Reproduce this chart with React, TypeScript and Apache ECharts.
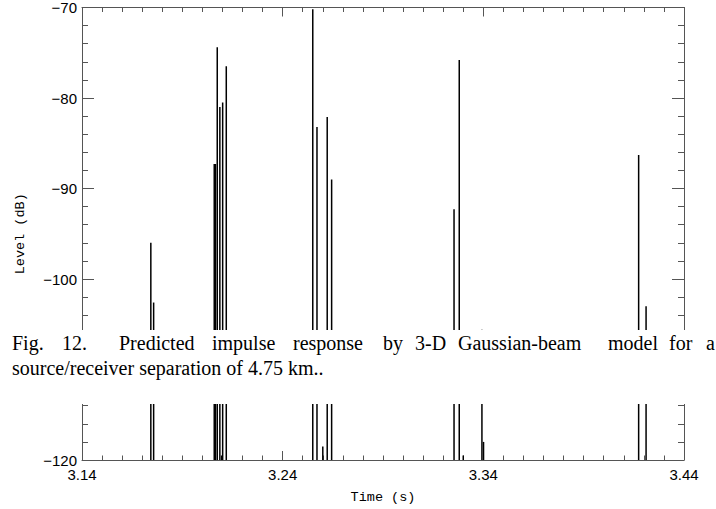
import React, { useEffect, useRef } from "react";
import * as echarts from "echarts";

// Arrival times (s) and levels (dB) of the predicted impulse response
const arrivalTimes = [
  3.1743, 3.1757,
  3.2059, 3.2065, 3.2074, 3.2087, 3.2096, 3.2101, 3.2119,
  3.2550, 3.2571, 3.2600, 3.2622, 3.2644,
  3.3254, 3.3280, 3.3300, 3.3393, 3.3401,
  3.4174, 3.4211,
];
const levels = [
  -96.0, -102.6,
  -87.3, -87.3, -74.4, -81.0, -119.5, -80.5, -76.5,
  -70.2, -83.2, -118.5, -82.1, -89.0,
  -92.3, -75.8, -119.5, -105.6, -118.0,
  -86.3, -103.0,
];
const xTickLabels = ["3.14", "3.24", "3.34", "3.44"];
const yTicks = [-120, -110, -100, -90, -80, -70];
const yHiddenTick = -110; // covered by the caption in the reference

const T0 = 3.14;
const captionLine1 = ["Fig.", "12.", "Predicted", "impulse", "response", "by", "3-D", "Gaussian-beam", "model", "for", "a"];
const captionLine1X = [12, 62, 119, 212, 293, 383, 415, 458, 608, 669, 706];
const captionLine2 = "source/receiver separation of 4.75 km..";

export default function App() {
  const ref = useRef<HTMLDivElement>(null);
  useEffect(() => {
    if (!ref.current) return;
    const chart = echarts.init(ref.current, null, { renderer: "svg" });
    const data = arrivalTimes.map((t, i) => [(t - T0) * 100, levels[i]]);
    const axisColor = "#555";
    const fmtX = (v: number) => xTickLabels[Math.round(v / 10)] ?? (T0 + v / 100).toFixed(2);
    const fmtY = (v: number) => (v === yHiddenTick ? "" : String(v).replace("-", "\u2212"));
    const baseX = {
      type: "value" as const,
      min: 0,
      max: 30,
      interval: 10,
      splitLine: { show: false },
      axisLine: { show: true, onZero: false, lineStyle: { color: axisColor, width: 1 } },
      axisTick: { show: true, inside: true, length: 9, lineStyle: { color: axisColor } },
      minorTick: { show: true, splitNumber: 10, length: 4.5, lineStyle: { color: axisColor } },
    };
    const baseY = {
      type: "value" as const,
      min: yTicks[0],
      max: yTicks[yTicks.length - 1],
      interval: 10,
      splitLine: { show: false },
      axisLine: { show: true, onZero: false, lineStyle: { color: axisColor, width: 1 } },
      axisTick: { show: true, inside: true, length: 12, lineStyle: { color: axisColor } },
      minorTick: { show: true, splitNumber: 5, length: 6, lineStyle: { color: axisColor } },
    };
    const graphic: any[] = [
      {
        type: "rect",
        z: 100,
        shape: { x: 0, y: 330, width: 716, height: 74 },
        style: { fill: "#fff" },
      },
    ];
    captionLine1.forEach((w, i) => {
      graphic.push({
        type: "text",
        z: 101,
        x: captionLine1X[i],
        y: 343,
        style: {
          text: w,
          fill: "#000",
          font: "20px 'Liberation Serif'",
          verticalAlign: "middle",
        },
      });
    });
    graphic.push({
      type: "text",
      z: 101,
      x: 12,
      y: 368,
      style: {
        text: captionLine2,
        fill: "#000",
        font: "20px 'Liberation Serif'",
        verticalAlign: "middle",
      },
    });
    chart.setOption({
      animation: false,
      backgroundColor: "#fff",
      grid: { left: 82, right: 32, top: 1, bottom: 47, containLabel: false },
      xAxis: [
        {
          ...baseX,
          position: "bottom",
          name: "Time (s)",
          nameLocation: "middle",
          nameGap: 30,
          nameTextStyle: { fontFamily: "Liberation Mono", fontSize: 13.5, color: "#000" },
          axisLabel: {
            formatter: fmtX,
            color: "#000",
            fontFamily: "Liberation Sans",
            fontSize: 15,
            margin: 7,
          },
        },
        { ...baseX, position: "top", axisLabel: { show: false } },
      ],
      yAxis: [
        {
          ...baseY,
          position: "left",
          name: "Level (dB)",
          nameLocation: "middle",
          nameGap: 55,
          nameTextStyle: { fontFamily: "Liberation Mono", fontSize: 13.5, color: "#000" },
          axisLabel: {
            formatter: fmtY,
            color: "#000",
            fontFamily: "Liberation Sans",
            fontSize: 15,
            margin: 5,
          },
        },
        { ...baseY, position: "right", axisLabel: { show: false } },
      ],
      series: [
        {
          type: "custom",
          xAxisIndex: 0,
          yAxisIndex: 0,
          data,
          clip: true,
          renderItem: (params: any, api: any) => {
            const top = api.coord([api.value(0), api.value(1)]);
            const bottom = api.coord([api.value(0), yTicks[0]]);
            return {
              type: "line",
              shape: { x1: top[0], y1: top[1], x2: bottom[0], y2: bottom[1] },
              style: { stroke: "#000", lineWidth: 1.5 },
            };
          },
        },
      ],
      graphic,
    });
    return () => chart.dispose();
  }, []);
  return (
    <div
      ref={ref}
      style={{ position: "fixed", left: 0, top: 0, width: 716, height: 509, background: "#fff" }}
    />
  );
}
